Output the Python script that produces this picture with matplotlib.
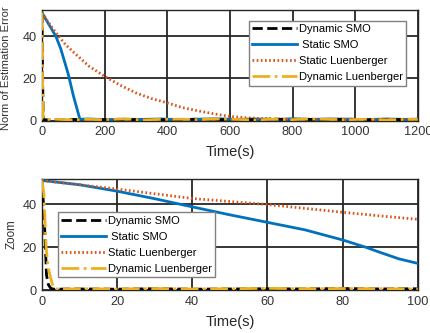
import numpy as np
import matplotlib.pyplot as plt

plt.rcParams['font.family'] = ['Liberation Sans', 'DejaVu Sans']

# top panel: full run, 0-1200 s
t_dyn_smo = [0, 2, 4, 8, 30, 60, 100, 150, 200, 260, 320, 380, 440, 500, 560, 620, 680, 740, 800, 860, 920, 980, 1040, 1100, 1160, 1200]
e_dyn_smo = [51, 20, 1.2, 0.5, 0.6, 0.4, 0.7, 0.5, 0.6, 0.4, 0.7, 0.5, 0.6, 0.8, 0.5, 0.7, 0.6, 0.9, 0.5, 0.7, 0.6, 0.8, 0.5, 0.7, 0.6, 0.6]

t_sta_smo = [0, 20, 44, 60, 84, 100, 121, 150, 200, 260, 320, 380, 440, 500, 560, 620, 680, 740, 800, 860, 920, 980, 1040, 1100, 1160, 1200]
e_sta_smo = [51, 46, 40, 34, 22, 12, 0.8, 0.9, 0.6, 0.8, 0.7, 0.9, 0.6, 0.8, 1.0, 0.7, 0.9, 0.6, 1.0, 0.7, 0.9, 0.8, 0.6, 0.9, 0.7, 0.8]

t_sta_lue = [0, 25, 50, 75, 100, 150, 200, 250, 300, 350, 400, 450, 500, 550, 600, 650, 700, 760, 820, 880, 940, 1000, 1060, 1120, 1200]
e_sta_lue = [51, 45.5, 40.5, 36, 32.5, 25.8, 21, 16.8, 13.2, 10.5, 8.5, 6.2, 4.7, 3.3, 2.1, 1.5, 1.1, 0.8, 0.9, 0.7, 0.8, 0.6, 0.8, 0.7, 0.8]

t_dyn_lue = [0, 1, 2, 4, 8, 40, 90, 140, 200, 260, 320, 380, 440, 500, 560, 620, 680, 740, 800, 860, 920, 980, 1040, 1100, 1160, 1200]
e_dyn_lue = [51, 40, 15, 1.0, 0.6, 0.8, 0.5, 0.7, 0.6, 0.9, 0.5, 0.7, 0.8, 0.6, 0.9, 0.7, 0.5, 0.8, 0.6, 0.9, 0.7, 0.6, 0.8, 0.5, 0.7, 0.7]

# bottom panel: zoom on 0-100 s
z_t_dyn_smo = [0, 0.4, 0.8, 1.2, 1.7, 2.3, 3, 10, 20, 30, 40, 50, 60, 70, 80, 90, 100]
z_e_dyn_smo = [51, 40, 25, 7, 2.5, 0.9, 0.4, 0.5, 0.4, 0.6, 0.4, 0.5, 0.6, 0.5, 0.7, 0.5, 0.6]

z_t_sta_smo = [0, 10, 20, 30, 40, 50, 60, 70, 80, 86, 90, 95, 100]
z_e_sta_smo = [51, 49, 46, 42.5, 38.7, 35, 31.5, 28, 23.3, 20, 17.5, 14.5, 12.4]

z_t_sta_lue = [0, 10, 20, 30, 40, 50, 60, 70, 80, 90, 100]
z_e_sta_lue = [51, 49, 47, 44.8, 42.6, 41.2, 39.8, 38, 36.2, 34.5, 32.9]

z_t_dyn_lue = [0, 0.5, 1.1, 1.6, 2.1, 2.8, 3.5, 5, 10, 20, 30, 40, 50, 60, 70, 80, 90, 100]
z_e_dyn_lue = [51, 45, 20, 11, 7, 2.5, 0.6, 0.4, 0.6, 0.5, 0.7, 0.5, 0.6, 0.8, 0.6, 0.7, 0.6, 0.5]

labels = ['Dynamic SMO', ' Static SMO', 'Static Luenberger', 'Dynamic Luenberger']
c_blue, c_orange, c_yellow = '#0072BD', '#D95319', '#EDB120'

fig = plt.figure(figsize=(4.31, 3.33), dpi=100)
ax1 = fig.add_axes([0.0974, 0.637, 0.872, 0.333])
ax2 = fig.add_axes([0.0974, 0.129, 0.872, 0.333])


def draw(ax, a, b, c, d):
    ax.plot(*a, color='k', ls='--', lw=2, label=labels[0], zorder=5)
    ax.plot(*b, color=c_blue, ls='-', lw=2, label=labels[1], zorder=3)
    ax.plot(*c, color=c_orange, ls=(0, (0.6, 0.9)), lw=2, label=labels[2], zorder=4)
    ax.plot(*d, color=c_yellow, ls='-.', lw=2, label=labels[3], zorder=6)
    ax.grid(True, color='#262626', lw=1.3)
    ax.set_axisbelow(True)
    ax.tick_params(labelsize=9.2, colors='#333333', direction='in', length=0, pad=4)
    for s in ax.spines.values():
        s.set_color('#262626')
        s.set_linewidth(1.0)
    ax.set_xlabel('Time(s)', fontsize=10.5, color='#262626', labelpad=5)
    ax.legend(loc='upper left', fontsize=8, handlelength=4,
              fancybox=False, edgecolor='#808080', framealpha=1, borderpad=0.3,
              labelspacing=0.55, handletextpad=0.2, borderaxespad=0)


draw(ax1, (t_dyn_smo, e_dyn_smo), (t_sta_smo, e_sta_smo), (t_sta_lue, e_sta_lue), (t_dyn_lue, e_dyn_lue))
ax1.set_xlim(0, 1200)
ax1.set_ylim(0, 52.3)
ax1.set_xticks(np.arange(0, 1201, 200))
ax1.set_yticks([0, 20, 40])
ax1.set_ylabel('Norm of Estimation Error', fontsize=8.1, color='#333333')
ax1.yaxis.set_label_coords(-0.083, 0.475)
ax1.get_legend().set_bbox_to_anchor((0.551, 0.905))

draw(ax2, (z_t_dyn_smo, z_e_dyn_smo), (z_t_sta_smo, z_e_sta_smo), (z_t_sta_lue, z_e_sta_lue), (z_t_dyn_lue, z_e_dyn_lue))
ax2.set_xlim(0, 100)
ax2.set_ylim(0, 51.6)
ax2.set_xticks(np.arange(0, 101, 20))
ax2.set_yticks([0, 20, 40])
ax2.set_ylabel('Zoom', fontsize=8.4, color='#333333')
ax2.yaxis.set_label_coords(-0.064, 0.5)
ax2.get_legend().set_bbox_to_anchor((0.043, 0.7))

fig.savefig('out.png', dpi=100)
